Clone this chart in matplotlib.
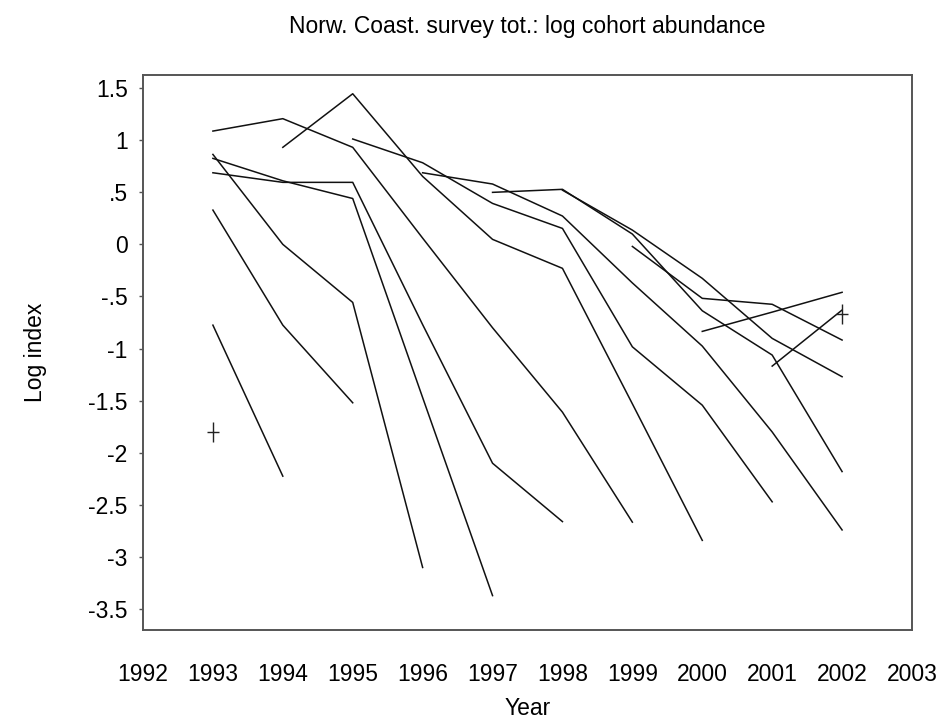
import matplotlib
matplotlib.use("Agg")
import matplotlib.pyplot as plt
from matplotlib.path import Path
import numpy as np

plt.rcParams['font.family'] = ['Liberation Sans', 'DejaVu Sans']

# Log cohort indices by survey year; each cohort is followed through the years it appears
cohort_years = [
    [1993],
    [1993, 1994],
    [1993, 1994, 1995],
    [1993, 1994, 1995, 1996],
    [1993, 1994, 1995, 1996, 1997],
    [1993, 1994, 1995, 1996, 1997, 1998],
    [1993, 1994, 1995, 1996, 1997, 1998, 1999],
    [1994, 1995, 1996, 1997, 1998, 1999, 2000],
    [1995, 1996, 1997, 1998, 1999, 2000, 2001],
    [1996, 1997, 1998, 1999, 2000, 2001, 2002],
    [1997, 1998, 1999, 2000, 2001, 2002],
    [1998, 1999, 2000, 2001, 2002],
    [1999, 2000, 2001, 2002],
    [2000, 2001, 2002],
    [2001, 2002],
    [2002],
]
cohort_values = [
    [-1.80],
    [-0.775, -2.224],
    [0.329, -0.775, -1.52],
    [0.863, 0.0, -0.557, -3.10],
    [0.825, 0.61, 0.44, -1.47, -3.37],
    [0.687, 0.595, 0.595, -0.77, -2.10, -2.66],
    [1.087, 1.206, 0.931, 0.06, -0.80, -1.61, -2.665],
    [0.931, 1.445, 0.652, 0.048, -0.23, -1.53, -2.84],
    [1.011, 0.783, 0.393, 0.153, -0.983, -1.543, -2.47],
    [0.687, 0.579, 0.272, -0.37, -0.976, -1.80, -2.74],
    [0.499, 0.528, 0.099, -0.637, -1.062, -2.18],
    [0.52, 0.137, -0.326, -0.902, -1.27],
    [-0.02, -0.518, -0.575, -0.918],
    [-0.835, -0.65, -0.46],
    [-1.168, -0.63],
    [-0.67],
]

x_ticks = list(range(1992, 2004))
y_ticks = [1.5, 1, 0.5, 0, -0.5, -1, -1.5, -2, -2.5, -3, -3.5]
y_tick_labels = ["1.5", "1", ".5", "0", "-.5", "-1", "-1.5", "-2", "-2.5", "-3", "-3.5"]

# narrow, tall plus sign for single-year cohorts
plus_marker = Path([(-0.6, 0), (0.6, 0), (0, -1), (0, 1)],
                   [Path.MOVETO, Path.LINETO, Path.MOVETO, Path.LINETO])

fig = plt.figure(figsize=(9.46, 7.28), dpi=100)
ax = fig.add_axes([143 / 946, 1 - 630 / 728, (912 - 143) / 946, (630 - 75) / 728])

for yrs, vals in zip(cohort_years, cohort_values):
    if len(yrs) == 1:
        ax.plot(yrs, vals, linestyle='none', marker=plus_marker, color='#222222',
                markersize=14, markeredgewidth=1.0, markerfacecolor='none')
    else:
        ax.plot(yrs, vals, color='#111111', linewidth=1.1)

ax.set_xlim(1992, 2003)
ax.set_ylim(-3.70, 1.625)

ax.set_xticks(x_ticks)
ax.set_xticklabels([str(t) for t in x_ticks], fontsize=16.5)
ax.tick_params(axis='x', length=0, pad=24)
ax.set_yticks(y_ticks)
ax.set_yticklabels(y_tick_labels, fontsize=16.5)
ax.tick_params(axis='y', length=3, width=1, color='#555555', pad=8)

for s in ax.spines.values():
    s.set_color('#555555')
    s.set_linewidth(1.4)

ax.set_xlabel("Year", fontsize=16.5, labelpad=8)
ax.set_ylabel("Log index", fontsize=16.5, labelpad=30)
fig.text(527 / 946, 1 - 27 / 728, "Norw. Coast. survey tot.: log cohort abundance",
         ha='center', va='center', fontsize=16.5)

fig.savefig("out.png", dpi=100)
